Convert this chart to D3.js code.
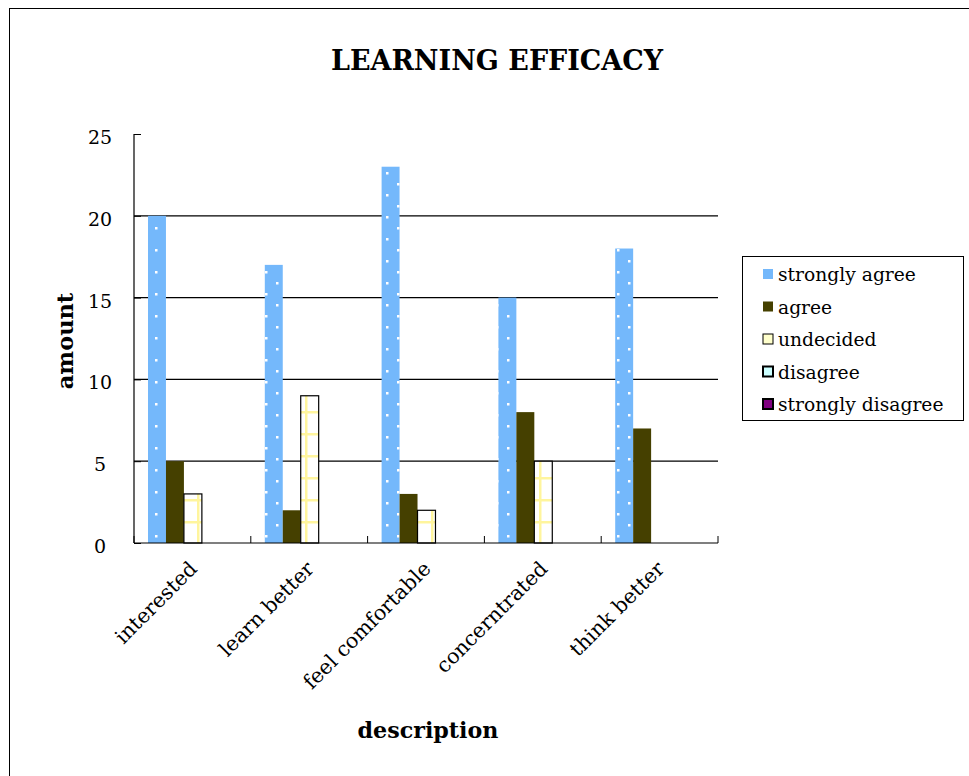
<!DOCTYPE html>
<html><head><meta charset="utf-8">
<script src="https://cdn.jsdelivr.net/npm/d3@7"></script>
<style>body{margin:0;background:#fff}svg{display:block}text{font-family:'DejaVu Serif',serif}</style>
</head><body>
<script>
const categories = ["interested","learn better","feel comfortable","concerntrated","think better"];
const seriesNames = ["strongly agree","agree","undecided","disagree","strongly disagree"];
const stronglyAgree = [20,17,23,15,18];
const agree = [5,2,3,8,7];
const undecided = [3,9,2,5,0];
const disagree = [0,0,0,0,0];
const stronglyDisagree = [0,0,0,0,0];
const yTicks = [0,5,10,15,20,25];
const seriesValues = [stronglyAgree, agree, undecided, disagree, stronglyDisagree];

const W = 969, H = 776;
const svg = d3.select("body").append("svg").attr("width", W).attr("height", H);
const defs = svg.append("defs");
const p1 = defs.append("pattern").attr("id","dots").attr("patternUnits","userSpaceOnUse")
  .attr("width",22).attr("height",22).attr("x",148).attr("y",0);
p1.append("rect").attr("width",22).attr("height",22).attr("fill","#74b8fb");
p1.append("rect").attr("x",7).attr("y",7).attr("width",2.5).attr("height",2.5).attr("fill","#fff");
p1.append("rect").attr("x",18).attr("y",18).attr("width",2.5).attr("height",2.5).attr("fill","#fff");
const p2 = defs.append("pattern").attr("id","grid").attr("patternUnits","userSpaceOnUse")
  .attr("width",18).attr("height",22).attr("x",184).attr("y",543);
p2.append("rect").attr("width",18).attr("height",22).attr("fill","#fff");
p2.append("rect").attr("x",0).attr("y",0).attr("width",18).attr("height",2.5).attr("fill","#fff59d");
p2.append("rect").attr("x",13).attr("y",0).attr("width",2.5).attr("height",22).attr("fill","#fff59d");

const fills = ["url(#dots)","#454000","url(#grid)","#ccffff","#800080"];
const strokes = ["none","none","#000","#000","#000"];
const legendFills = ["#74b8fb","#454000","#ffffcc","#ccffff","#800080"];

svg.append("rect").attr("x",9.5).attr("y",8.5).attr("width",W+20).attr("height",H+20)
  .attr("fill","none").attr("stroke","#000").attr("stroke-width",1);

const m = {left:134, right:718, top:134, bottom:543};
const x = d3.scaleBand().domain(categories).range([m.left,m.right]);
const inner = d3.scaleBand().domain(seriesNames).range([14, x.bandwidth()-13]);
const y = d3.scaleLinear().domain([0,25]).range([m.bottom,m.top]);

const font = "'DejaVu Serif', serif";

svg.append("g").selectAll("line").data(yTicks.filter(t=>t>0 && t<25)).join("line")
  .attr("x1",m.left).attr("x2",m.right).attr("y1",d=>y(d)).attr("y2",d=>y(d))
  .attr("stroke","#000").attr("stroke-width",1.2);

seriesValues.forEach((vals,si)=>{
  svg.append("g").selectAll("rect").data(vals).join("rect")
    .attr("x",(d,i)=>x(categories[i])+inner(seriesNames[si]))
    .attr("y",d=>y(d))
    .attr("width",inner.bandwidth())
    .attr("height",d=>y(0)-y(d))
    .attr("fill",fills[si])
    .attr("stroke",d=>d>0?strokes[si]:"none")
    .attr("stroke-width",1.2);
});

const yAxis = d3.axisLeft(y).tickValues(yTicks).tickSize(-7).tickPadding(34);
const gy = svg.append("g").attr("transform",`translate(${m.left},0)`).call(yAxis);
gy.select(".domain").remove();
gy.selectAll(".tick line").attr("stroke","#000");
gy.selectAll("text").attr("font-family",font).attr("font-size",19).attr("fill","#000")
  .attr("text-anchor","middle").attr("dy","0.5em");
svg.append("line").attr("x1",m.left).attr("x2",m.left).attr("y1",m.top).attr("y2",m.bottom).attr("stroke","#000").attr("stroke-width",1.2);
svg.append("line").attr("x1",m.left).attr("x2",m.right).attr("y1",m.bottom).attr("y2",m.bottom).attr("stroke","#000").attr("stroke-width",1.2);
const bounds = categories.map(c=>x(c)).concat([m.right]);
svg.append("g").selectAll("line").data(bounds).join("line")
  .attr("x1",d=>d).attr("x2",d=>d).attr("y1",m.bottom).attr("y2",m.bottom-7).attr("stroke","#000");

svg.append("g").selectAll("text").data(categories).join("text")
  .attr("transform",d=>`translate(${x(d)+x.bandwidth()/2+6},${m.bottom+27}) rotate(-45)`)
  .attr("text-anchor","end").attr("font-family",font).attr("font-size",20.5).attr("fill","#000")
  .text(d=>d);

svg.append("text").attr("x",497).attr("y",70).attr("text-anchor","middle")
  .attr("font-family",font).attr("font-weight","bold").attr("font-size",27).text("LEARNING EFFICACY");
svg.append("text").attr("x",428).attr("y",738).attr("text-anchor","middle")
  .attr("font-family",font).attr("font-weight","bold").attr("font-size",22.2).text("description");
svg.append("text").attr("transform","translate(73,341) rotate(-90)").attr("text-anchor","middle")
  .attr("font-family",font).attr("font-weight","bold").attr("font-size",22.5).text("amount");

const lg = svg.append("g");
lg.append("rect").attr("x",742.5).attr("y",256.5).attr("width",221).attr("height",164)
  .attr("fill","#fff").attr("stroke","#000").attr("stroke-width",1);
seriesNames.forEach((n,i)=>{
  const cy = 274 + i*32.5;
  lg.append("rect").attr("x",763).attr("y",cy-5).attr("width",10).attr("height",10)
    .attr("fill",legendFills[i]).attr("stroke",i>=2?"#000":"none").attr("stroke-width",i>=3?2:1);
  lg.append("text").attr("x",778).attr("y",cy+7).attr("font-family",font).attr("font-size",18.7).text(n);
});
</script>
</body></html>
